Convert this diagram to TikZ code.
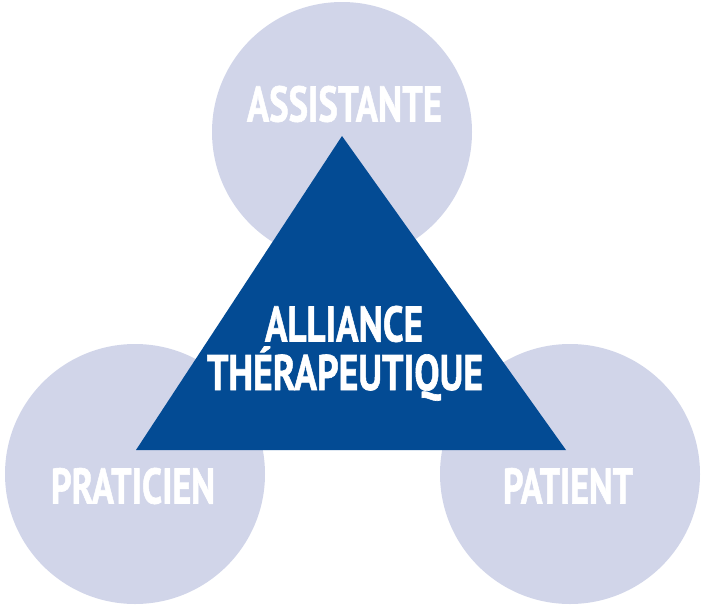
\documentclass[tikz,border=0pt]{standalone}
\usepackage{fontspec}
\setmainfont{PT Sans}
\newfontfamily\heavyfont{PT Sans Bold}[FakeBold=1.3]
\usepackage{graphicx}
\definecolor{circfill}{HTML}{D1D5E9}
\definecolor{trifill}{HTML}{034B94}
\tikzset{
  person/.style={circle, fill=circfill, draw=none, minimum size=260pt, inner sep=0pt},
  lbl/.style={anchor=base, text=white, inner sep=0pt, font=\fontsize{50}{50}\selectfont\heavyfont},
}
\newcommand\fitw[2]{\resizebox{#1}{\height}{#2}}
\begin{document}
\begin{tikzpicture}[x=1pt, y=-1pt]
\useasboundingbox (0,0) rectangle (702,608);
\node[person] (cA) at (342,132) {};
\node[person] (cP) at (135,474) {};
\node[person] (cT) at (570,474) {};
\coordinate (tA) at (342,136);
\coordinate (tL) at (136,450);
\coordinate (tR) at (566,450);
\fill[trifill] (tA) -- (tL) -- (tR) -- cycle;
\node[lbl] (lA) at (344.5,121.5) {\fitw{195pt}{ASSISTANTE}};
\node[lbl] (lP) at (133,503.5) {\fitw{164pt}{PRATICIEN}};
\node[lbl] (lT) at (568,503.5) {\fitw{130pt}{PATIENT}};
\node[lbl] (l1) at (344,341.5) {\fitw{158pt}{ALLIANCE}};
\node[lbl] (l2) at (345,390) {\fitw{276pt}{THÉRAPEUTIQUE}};
\end{tikzpicture}
\end{document}
